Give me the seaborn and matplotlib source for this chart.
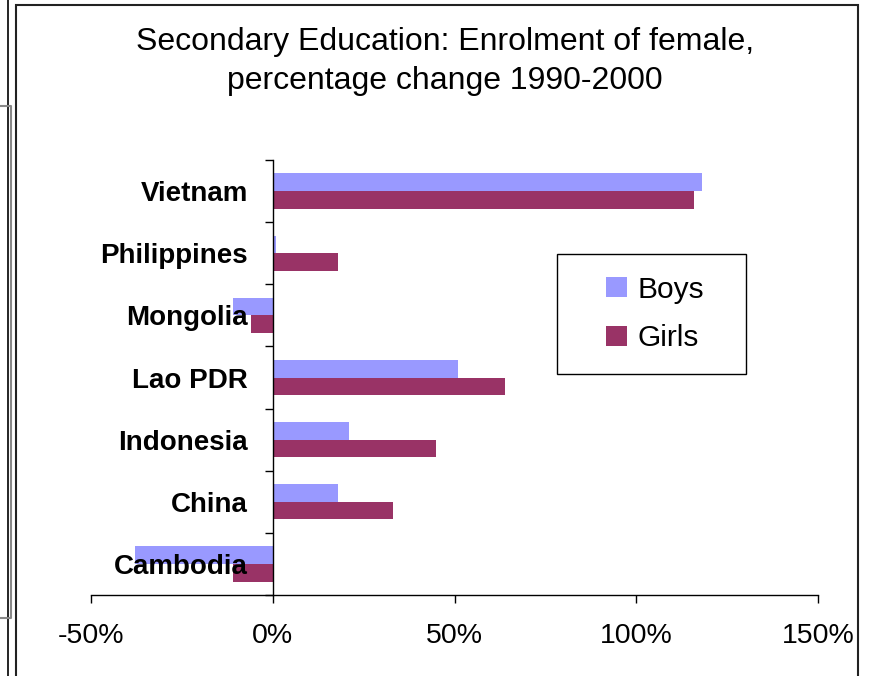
"""
Secondary education: percentage change in enrolment 1990-2000, boys vs girls.
"""
import matplotlib

matplotlib.use("Agg")
import matplotlib.pyplot as plt
import matplotlib.ticker as mticker
from matplotlib.lines import Line2D
from matplotlib.patches import Rectangle
import pandas as pd
import seaborn as sns

# --- Data (percentage change 1990-2000) ---
COUNTRIES = ["Vietnam", "Philippines", "Mongolia", "Lao PDR", "Indonesia", "China", "Cambodia"]
BOYS = [118, 1, -11, 51, 21, 18, -38]
GIRLS = [116, 18, -6, 64, 45, 33, -11]
SERIES = ["Boys", "Girls"]
COLORS = {"Boys": "#9999FF", "Girls": "#993366"}
X_TICKS = [-50, 0, 50, 100, 150]

df = pd.DataFrame({
    "country": COUNTRIES * 2,
    "series": ["Boys"] * len(COUNTRIES) + ["Girls"] * len(COUNTRIES),
    "change": BOYS + GIRLS,
})

sns.set_theme(style="white")
plt.rcParams["font.family"] = ["Liberation Sans", "DejaVu Sans"]
plt.rcParams["text.color"] = "black"
plt.rcParams["xtick.color"] = "black"
plt.rcParams["ytick.color"] = "black"

fig = plt.figure(figsize=(8.69, 6.76), dpi=100)
ax = fig.add_axes([91 / 869, 81 / 676, 727 / 869, 435 / 676])

sns.barplot(data=df, x="change", y="country", hue="series", hue_order=SERIES,
            order=COUNTRIES, palette=COLORS, orient="h", width=0.57,
            saturation=1, dodge=True, linewidth=0, ax=ax, legend=True)

ax.set_axisbelow(False)  # labels sit on top of the bars, as in the original
ax.set_xlim(-50, 150)
ax.set_ylim(len(COUNTRIES) - 0.5, -0.5)
ax.set_xticks(X_TICKS)
ax.xaxis.set_major_formatter(mticker.FuncFormatter(lambda v, _: f"{v:.0f}%"))
ax.set_xlabel("")
ax.set_ylabel("")

# y axis sits at zero, ticks between categories
for side in ("top", "right"):
    ax.spines[side].set_visible(False)
ax.spines["left"].set_position(("data", 0))
for side in ("left", "bottom"):
    ax.spines[side].set_color("black")
    ax.spines[side].set_linewidth(1.0)
ax.set_yticks(range(len(COUNTRIES)))
ax.set_yticks([i - 0.5 for i in range(len(COUNTRIES) + 1)], minor=True)
ax.tick_params(axis="y", which="major", length=0, pad=18)
ax.tick_params(axis="y", which="minor", length=6, width=1, color="black", left=True)
ax.tick_params(axis="x", which="major", length=6, width=1, color="black",
               bottom=True, labelsize=20.5, pad=14)
ax.set_yticklabels(COUNTRIES, fontsize=20, fontweight="bold")

# legend: entries without frame, box drawn to the original's size
handles, labels = ax.get_legend_handles_labels()
ax.legend(handles, labels, loc="center", bbox_to_anchor=(0.776, 0.646),
          frameon=False, fontsize=21.5, handlelength=0.68, handleheight=0.68,
          handletextpad=0.35, labelspacing=0.7, borderaxespad=0)
ax.add_patch(Rectangle((0.641, 0.508), 0.260, 0.276, transform=ax.transAxes,
                       fill=False, edgecolor="black", linewidth=1.0, zorder=5))

fig.text(0.512, 0.909, "Secondary Education: Enrolment of female,\npercentage change 1990-2000",
         ha="center", va="center", fontsize=23, linespacing=1.35)

# chart frame and neighbouring chart edge
fig.patches.append(Rectangle((16 / 869, -0.1), (858 - 16) / 869, 1.1 - 5 / 676,
                             transform=fig.transFigure, fill=False,
                             edgecolor="#222222", linewidth=1.5))
fig.lines.append(Line2D([8 / 869, 8 / 869], [0, 1], transform=fig.transFigure,
                        color="black", linewidth=1.2))
fig.lines.append(Line2D([0, 11 / 869, 11 / 869, 0], [1 - 106 / 676, 1 - 106 / 676, 1 - 618 / 676, 1 - 618 / 676],
                        transform=fig.transFigure, color="#888888", linewidth=1.5))

fig.savefig("out.png", dpi=100, facecolor="white")
